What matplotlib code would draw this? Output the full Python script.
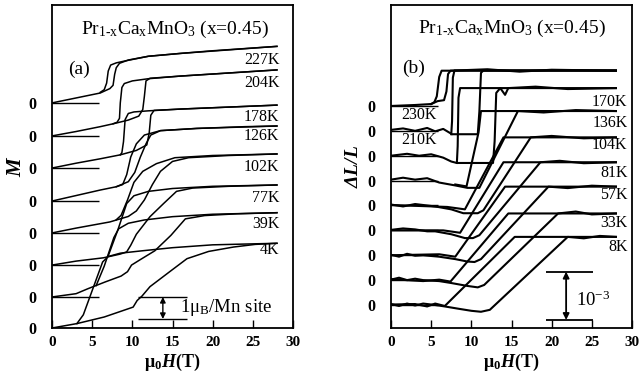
import matplotlib
matplotlib.use('Agg')
import matplotlib.pyplot as plt

plt.rcParams['font.family'] = ['Liberation Serif', 'DejaVu Serif']
plt.rcParams['mathtext.fontset'] = 'custom'
plt.rcParams['mathtext.rm'] = 'Liberation Serif'
plt.rcParams['mathtext.it'] = 'Liberation Serif:italic'
plt.rcParams['mathtext.bf'] = 'Liberation Serif:bold'
plt.rcParams['mathtext.bfit'] = 'Liberation Serif:bold:italic'

# ---------------- panel (a): magnetization M (mu_B / Mn site) ----------------
a_temps = ['4K', '39K', '77K', '102K', '126K', '178K', '204K', '227K']
a_offsets = [0.0, 1.41, 2.86, 4.32, 5.77, 7.27, 8.73, 10.23]

a_4K_up = [(0, 0), (3.1, 0.2), (6.5, 0.5), (10.1, 0.95), (10.6, 1.25), (11.2, 1.45),
           (12.2, 1.88), (14.8, 2.6), (16.8, 3.15), (19.5, 3.48), (22.6, 3.68), (25.3, 3.8), (28, 3.85)]
a_4K_dn = [(28, 3.85), (20, 3.78), (15, 3.65), (11, 3.5), (8.5, 3.4), (7.0, 3.25), (6.3, 3.0),
           (5.0, 1.7), (3.9, 0.6), (3.1, 0.2)]
a_39K_up = [(0, 0), (3, 0.15), (4.5, 0.38), (6.6, 0.68), (8.6, 0.95), (9.4, 1.15), (9.9, 1.45),
            (11, 1.7), (12.8, 2.1), (14.8, 2.8), (16.6, 3.55), (19, 3.7), (23, 3.78), (28, 3.83)]
a_39K_dn = [(28, 3.83), (20, 3.76), (15, 3.65), (11.5, 3.5), (9.5, 3.35), (8.3, 3.1), (7.7, 2.7),
            (6.5, 1.4), (5.5, 0.52)]
a_77K_up = [(0, 0), (3, 0.18), (6.4, 0.33), (8.5, 0.5), (9.3, 0.6), (9.8, 0.9), (10.5, 1.4),
            (12.2, 2.2), (13.9, 2.8), (15.5, 3.35), (17.5, 3.5), (22, 3.58), (28, 3.64)]
a_77K_dn = [(28, 3.64), (20, 3.58), (15, 3.48), (12, 3.35), (10.2, 3.15), (9.3, 2.8),
            (8.2, 1.6), (7.0, 0.42)]
a_102K_up = [(0, 0), (3, 0.22), (7.2, 0.5), (9.5, 0.75), (10.5, 1.0), (11.5, 1.5), (12.5, 2.2),
             (13.5, 2.8), (15, 3.25), (17, 3.42), (22, 3.52), (28, 3.59)]
a_102K_dn = [(28, 3.59), (20, 3.52), (15.3, 3.42), (13, 3.15), (11.3, 2.8), (10.2, 2.3),
             (9.4, 1.5), (8.6, 0.8), (8.0, 0.6)]
a_126K_up = [(0, 0), (3, 0.25), (6, 0.5), (8, 0.65), (9.5, 0.88), (10.3, 1.3), (11, 2.0),
             (11.7, 2.6), (12.3, 3.0), (13.5, 3.2), (18, 3.3), (24, 3.38), (28, 3.41)]
a_126K_dn = [(28, 3.41), (18, 3.3), (13.5, 3.2), (11.5, 3.0), (10.5, 2.6), (9.8, 2.0),
             (9.3, 1.2), (8.8, 0.75), (8.0, 0.65)]
a_178K_up = [(0, 0), (3, 0.22), (6, 0.42), (8.5, 0.6), (10.5, 0.8), (11.8, 1.05), (12.1, 1.6),
             (12.3, 2.4), (12.7, 2.62), (16, 2.68), (22, 2.77), (28, 2.86)]
a_178K_dn = [(28, 2.86), (16, 2.68), (12, 2.6), (10.2, 2.55), (9.5, 2.48), (9.1, 2.2),
             (8.9, 1.2), (8.7, 0.7), (8.5, 0.6)]
a_204K_up = [(0, 0), (3, 0.2), (6, 0.42), (7.6, 0.55), (9.5, 0.72), (10.8, 0.9), (11.3, 1.2),
             (11.5, 1.8), (11.7, 2.5), (12.2, 2.62), (16, 2.72), (22, 2.86), (28, 3.0)]
a_204K_dn = [(28, 3.0), (16, 2.72), (12, 2.6), (10, 2.5), (9.0, 2.38), (8.7, 2.2), (8.5, 1.5),
             (8.4, 0.8), (8.1, 0.62), (7.6, 0.55)]
a_227K_up = [(0, 0), (2, 0.15), (4, 0.3), (6, 0.45), (7.2, 0.65), (7.6, 0.8), (7.8, 1.3),
             (8.0, 1.6), (8.4, 1.8), (9.5, 1.95), (12, 2.12), (16, 2.25), (20, 2.37), (24, 2.47), (28, 2.57)]
a_227K_dn = [(28, 2.57), (16, 2.25), (12, 2.12), (9.0, 1.9), (8.0, 1.82), (7.3, 1.72), (7.0, 1.45),
             (6.8, 0.9), (6.5, 0.6), (6.0, 0.48)]

a_curves = [(a_4K_up, a_4K_dn), (a_39K_up, a_39K_dn), (a_77K_up, a_77K_dn),
            (a_102K_up, a_102K_dn), (a_126K_up, a_126K_dn), (a_178K_up, a_178K_dn),
            (a_204K_up, a_204K_dn), (a_227K_up, a_227K_dn)]

# ---------------- panel (b): magnetostriction dL/L (units of 1e-4) ----------------
b_temps = ['8K', '33K', '57K', '81K', '104K', '136K', '170K', '210K', '230K']
b_offsets = [0.0, 5.15, 10.3, 15.45, 20.6, 25.75, 30.9, 36.05, 41.2]

b_8K_up = [(0, 0.2), (1, -0.2), (2, 0.3), (3, -0.1), (4, 0.3), (5.5, 0.0), (6.7, -0.3), (8.5, -0.8),
           (10, -1.2), (11.2, -1.4), (12.3, -1.0), (22.0, 14.1), (24, 13.8), (26, 14.3), (28, 14.1)]
b_8K_dn = [(28, 14.1), (15.4, 14.1), (6.7, -0.2), (5.5, 0.3), (4.5, -0.3), (3, 0.2), (0, 0.1)]
b_33K_up = [(0, 0.1), (1, 0.5), (2, 0.0), (3, 0.3), (4, 0.0), (6, -0.2), (7.5, -0.6), (9.5, -1.2),
            (10.8, -1.5), (11.6, -1.0), (20.8, 13.8), (23, 14.2), (25, 13.6), (28, 13.8)]
b_33K_dn = [(28, 13.8), (14.6, 13.8), (7.4, -0.3), (6, 0.1), (4, -0.2), (0, 0.2)]
b_57K_up = [(0, 0.1), (1, -0.3), (2, 0.3), (3, -0.1), (4, 0), (6, -0.3), (8, -0.8), (9.5, -1.3),
            (10.4, -1.4), (11.2, -0.8), (19.6, 14.2), (22, 13.9), (25, 14.4), (28, 14.2)]
b_57K_dn = [(28, 14.2), (14.2, 14.2), (8.0, -0.3), (6, 0.2), (0, 0)]
b_81K_up = [(0, 0.1), (1.5, 0.4), (3, 0.2), (4.5, -0.2), (5.5, -0.2), (7.5, -0.8), (9.2, -1.6),
            (10.2, -1.6), (11.0, -1.0), (18.6, 14.1), (21, 14.4), (24, 13.9), (28, 14.1)]
b_81K_dn = [(28, 14.1), (14.0, 14.1), (8.6, -0.5), (6.5, 0), (0, 0)]
b_104K_up = [(0, 0.2), (1.5, -0.2), (3, 0.3), (4.5, 0.0), (5.5, -0.2), (7.5, -0.8), (9, -1.6),
             (10.8, -1.6), (11.5, -1.0), (17.4, 14.1), (20, 14.4), (24, 13.9), (28, 14.1)]
b_104K_dn = [(28, 14.1), (14.0, 14.1), (9.2, -0.8), (7, -0.3), (0, 0.1)]
b_136K_up = [(0, 0.2), (1.5, 0.6), (3, 0.2), (4.5, 0.5), (6, -0.4), (8, -1.0), (9.5, -1.5),
             (11.0, -1.5), (15.8, 14.4), (19, 14.1), (23, 14.6), (28, 14.4)]
b_136K_dn = [(28, 14.4), (11.2, 14.4), (10.9, 10), (9.4, -1.2), (8, -0.8)]
b_170K_up = [(0, 0), (2, 0.4), (3.5, 0), (5, 0.3), (6.5, -0.4), (7.5, -1.2), (8.2, -1.5),
             (12.7, -1.5), (12.9, 3), (13.1, 13.0), (13.6, 14.0), (14.2, 12.6), (14.6, 14.0),
             (18, 14.3), (22, 13.8), (28, 14.0)]
b_170K_dn = [(28, 14), (8.6, 14.0), (8.4, 12), (8.3, 2), (8.2, -1.5)]
b_210K_up = [(0, 0.2), (1.5, 0.5), (3, 0), (4.5, 0.6), (5.5, -0.1), (6.5, 0.4), (7.6, -0.7),
             (10.8, -0.7), (11.0, 4), (11.2, 12.0), (11.5, 12.5), (28, 12.5)]
b_210K_dn = [(28, 12.5), (7.9, 12.5), (7.7, 11), (7.6, 2), (7.5, -0.7)]
b_230K_up = [(0, 0), (3, 0.2), (5, 0.4), (5.8, 1.0), (6.6, 1.2), (6.9, 3), (7.1, 6.6), (7.4, 7.3),
             (12, 7.6), (16, 7.1), (20, 7.5), (28, 7.3)]
b_230K_dn = [(28, 7.3), (6.3, 7.3), (6.0, 6), (5.7, 2), (5.4, 0.8), (5, 0.4)]

b_curves = [(b_8K_up, b_8K_dn), (b_33K_up, b_33K_dn), (b_57K_up, b_57K_dn),
            (b_81K_up, b_81K_dn), (b_104K_up, b_104K_dn), (b_136K_up, b_136K_dn),
            (b_170K_up, b_170K_dn), (b_210K_up, b_210K_dn), (b_230K_up, b_230K_dn)]

x_ticks = [0, 5, 10, 15, 20, 25, 30]

TITLE = r'Pr$_{\mathrm{1‐x}}$Ca$_{\mathrm{x}}$MnO$_{\mathrm{3}}$ (x=0.45)'

# ---------------- figure ----------------
fig = plt.figure(figsize=(6.39, 3.86), dpi=100)
axA = fig.add_axes([52 / 639, 58 / 386, 241 / 639, 323 / 386])
axB = fig.add_axes([391 / 639, 58 / 386, 241 / 639, 323 / 386])


def style_axis(ax, ylim, offsets):
    ax.set_xlim(0, 30)
    ax.set_ylim(*ylim)
    ax.set_xticks(x_ticks)
    ax.set_xticklabels([str(t) for t in x_ticks], fontweight='bold', fontsize=11)
    ax.tick_params(axis='x', direction='in', length=6, width=1.0, top=False, pad=6)
    ax.set_yticks(offsets)
    ax.set_yticklabels(['0'] * len(offsets), fontweight='bold', fontsize=11.5)
    ax.tick_params(axis='y', length=0, pad=11)
    for s in ax.spines.values():
        s.set_linewidth(1.3)
    ax.hlines(offsets, 0, 5.8, color='black', lw=1.0)
    ax.set_xlabel(r'μ$_\mathbf{0}$$\mathbfit{H}$(T)', fontsize=13, fontweight='bold', labelpad=2)


# panel (a)
for (up, dn), off in zip(a_curves, a_offsets):
    for br in (up, dn):
        ax_h = [p[0] for p in br]
        ax_m = [p[1] + off for p in br]
        axA.plot(ax_h, ax_m, color='black', lw=1.1)
style_axis(axA, (0, 14.68), a_offsets)
axA.set_ylabel(r'$\mathbfit{M}$', fontsize=15, labelpad=2)

a_label_y = [3.55, 4.71, 5.9, 7.33, 8.73, 9.58, 11.12, 12.18]
for t, y in zip(a_temps, a_label_y):
    axA.text(28.3, y, t, ha='right', va='center', fontsize=11.5)
axA.text(15.3, 13.55, TITLE, ha='center', va='center', fontsize=14)
axA.text(2.0, 11.77, '(a)', ha='left', va='center', fontsize=14)
# scale bar 1 muB
axA.hlines([0.41, 1.41], 10.75, 16.8, color='black', lw=1.0)
axA.annotate('', xy=(13.8, 1.41), xytext=(13.8, 0.41),
             arrowprops=dict(arrowstyle='<|-|>', color='black', lw=1.0,
                             mutation_scale=8, shrinkA=0, shrinkB=0))
axA.text(15.9, 0.92, r'1μ$_{\mathrm{B}}$/Mn site', ha='left', va='center', fontsize=13.5)

# panel (b)
for (up, dn), off in zip(b_curves, b_offsets):
    for br in (up, dn):
        bx = [p[0] for p in br]
        by = [p[1] + off for p in br]
        axB.plot(bx, by, color='black', lw=1.5)
style_axis(axB, (-4.76, 62.1), b_offsets)
axB.set_ylabel(r'$\mathbfit{ΔL/L}$', fontsize=14, labelpad=4)

b_label_pos = [(29.45, 12.1, 'right'), (29.45, 16.9, 'right'), (29.45, 22.8, 'right'),
               (29.45, 27.4, 'right'), (29.45, 33.1, 'right'), (29.45, 37.7, 'right'),
               (29.45, 42.1, 'right'), (1.3, 34.2, 'left'), (1.3, 39.3, 'left')]
for t, (x, y, ha) in zip(b_temps, b_label_pos):
    axB.text(x, y, t, ha=ha, va='center', fontsize=11.5)
axB.text(15.1, 57.3, TITLE, ha='center', va='center', fontsize=14)
axB.text(1.4, 49.0, '(b)', ha='left', va='center', fontsize=14)
axB.hlines([6.9, -3.1], 19.3, 25.1, color='black', lw=1.3)
axB.annotate('', xy=(21.8, 6.9), xytext=(21.8, -3.1),
             arrowprops=dict(arrowstyle='<|-|>', color='black', lw=1.3,
                             mutation_scale=9, shrinkA=0, shrinkB=0))
axB.text(23.0, 1.0, r'10$^{\mathrm{-3}}$', ha='left', va='center', fontsize=13.5)

fig.savefig('out.png', dpi=100)
